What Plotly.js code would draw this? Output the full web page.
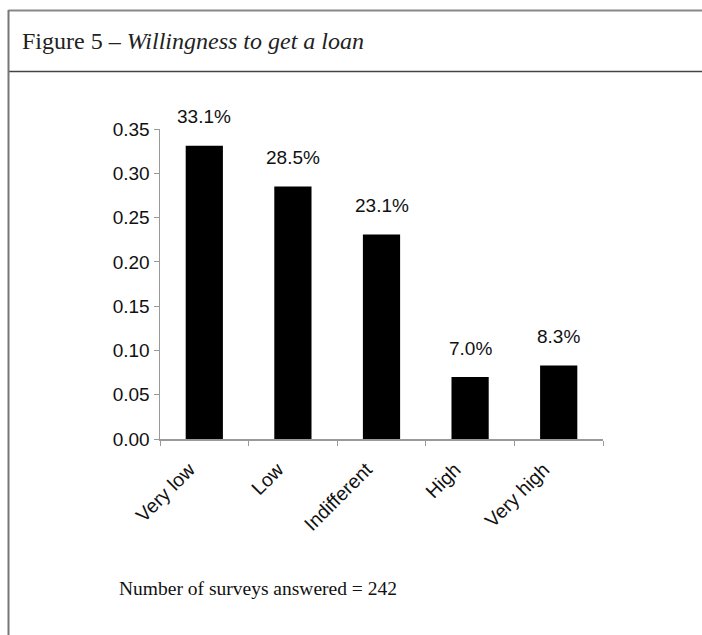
<!DOCTYPE html>
<html>
<head>
<meta charset="utf-8">
<script src="https://cdn.plot.ly/plotly-3.0.1.min.js"></script>
<style>
html,body{margin:0;padding:0;background:#fff;}
#chart{width:702px;height:635px;}
</style>
</head>
<body>
<div id="chart"></div>
<script>
const categories = ["Very low", "Low", "Indifferent", "High", "Very high"];
const shares = [0.331, 0.285, 0.231, 0.070, 0.083];
const shareLabels = ["33.1%", "28.5%", "23.1%", "7.0%", "8.3%"];
const yTickValues = [0, 0.05, 0.10, 0.15, 0.20, 0.25, 0.30, 0.35];
const yTickLabels = ["0.00", "0.05", "0.10", "0.15", "0.20", "0.25", "0.30", "0.35"];
const figureTitle = "Figure 5 – <i>Willingness to get a loan</i>";
const footnote = "Number of surveys answered = 242";

const W = 702, H = 635;
const M = {l: 160, r: 99, t: 129, b: 196};
const pw = W - M.l - M.r, ph = H - M.t - M.b;
const px = x => (x - M.l) / pw;
const py = y => (H - M.b - y) / ph;
const sans = "Liberation Sans, Arial, sans-serif";
const serif = "Liberation Serif, Times New Roman, serif";

const trace = {
  type: "bar",
  x: categories,
  y: shares,
  marker: {color: "#000", line: {color: "#000", width: 0}},
  hoverinfo: "skip"
};

const valueAnnotations = categories.map((c, i) => ({
  x: c, y: shares[i], xref: "x", yref: "y",
  text: shareLabels[i], showarrow: false,
  yshift: 29, font: {family: sans, size: 19, color: "#111"}
}));

const layout = {
  width: W, height: H,
  margin: M,
  paper_bgcolor: "#fff", plot_bgcolor: "#fff",
  showlegend: false,
  bargap: 0.58,
  xaxis: {
    type: "category",
    showline: true, linecolor: "#999", linewidth: 1.5,
    ticks: "outside", tickson: "boundaries", ticklen: 5, tickcolor: "#999",
    tickangle: -45, ticklabelstandoff: 10, ticklabelshift: -15,
    tickfont: {family: sans, size: 19.5, color: "#111"},
    showgrid: false, zeroline: false
  },
  yaxis: {
    range: [0, 0.35],
    tickvals: yTickValues, ticktext: yTickLabels,
    showline: true, linecolor: "#999", linewidth: 1.5,
    ticks: "outside", ticklen: 5, tickcolor: "#999",
    tickfont: {family: sans, size: 19, color: "#111"},
    showgrid: false, zeroline: false
  },
  annotations: valueAnnotations.concat([
    {xref: "paper", yref: "paper", x: px(20), y: py(41), xanchor: "left", yanchor: "middle",
     text: figureTitle, showarrow: false,
     font: {family: serif, size: 24, color: "#222"}},
    {xref: "paper", yref: "paper", x: px(117), y: py(588), xanchor: "left", yanchor: "middle",
     text: footnote, showarrow: false,
     font: {family: serif, size: 19.5, color: "#111"}}
  ]),
  shapes: [
    {type: "line", xref: "paper", yref: "paper", x0: px(8.5), x1: px(702), y0: py(10.5), y1: py(10.5),
     line: {color: "#888", width: 2}},
    {type: "line", xref: "paper", yref: "paper", x0: px(8.5), x1: px(702), y0: py(71.5), y1: py(71.5),
     line: {color: "#444", width: 1.5}},
    {type: "line", xref: "paper", yref: "paper", x0: px(8.5), x1: px(8.5), y0: py(10), y1: py(635),
     line: {color: "#777", width: 2}}
  ]
};

Plotly.newPlot("chart", [trace], layout, {staticPlot: true, displayModeBar: false});
</script>
</body>
</html>
